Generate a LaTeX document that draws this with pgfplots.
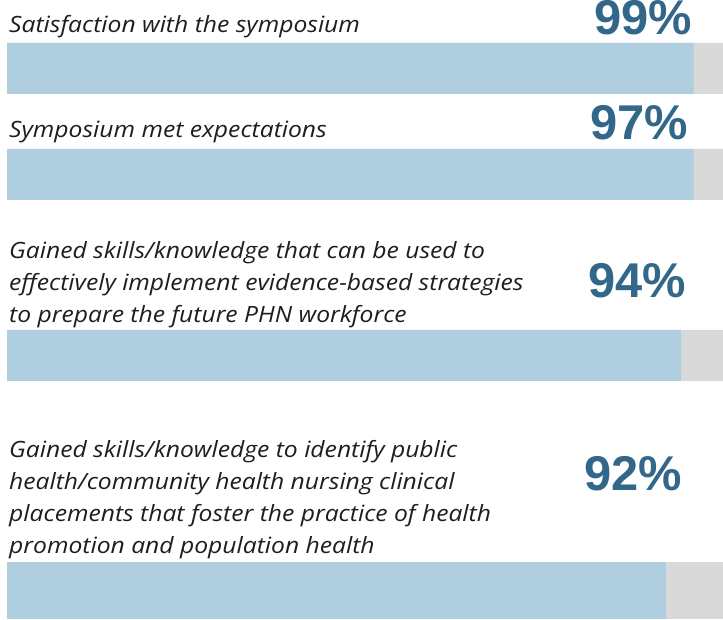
\documentclass[border=0pt]{standalone}
\usepackage{fontspec}
\setmainfont{Open Sans}[FakeStretch=1.10]
\newfontfamily\numfont{Liberation Sans}
\usepackage{pgfplots}
\pgfplotsset{compat=1.18}
\definecolor{barblue}{RGB}{175,206,224}
\definecolor{bargrey}{RGB}{217,217,217}
\definecolor{pctblue}{RGB}{50,103,137}
\definecolor{txt}{RGB}{30,30,30}
\begin{document}
\begin{tikzpicture}[x=1bp,y=1bp,
  lab/.style={anchor=base west, inner sep=0pt, text=txt, font=\fontsize{22.5}{26}\selectfont\itshape},
  pct/.style={anchor=base, inner sep=0pt, text=pctblue, font=\numfont\bfseries\fontsize{49}{52}\selectfont}]
\begin{axis}[at={(0,0)}, anchor=south west, scale only axis,
  width=723bp, height=620bp,
  xmin=-0.9777, xmax=100, ymin=0, ymax=620,
  hide axis, xbar, bar shift=0pt, clip=false]
\addplot[fill=bargrey, draw=none, bar width=51] coordinates {(100,551.5) (100,445.5) (100,264.5)};
\addplot[fill=barblue, draw=none, bar width=51] coordinates {(95.9,551.5) (95.9,445.5) (94.1,264.5)};
\addplot[fill=bargrey, draw=none, bar width=57] coordinates {(100,29.5)};
\addplot[fill=barblue, draw=none, bar width=57] coordinates {(92.0,29.5)};
\end{axis}
\node[lab] at (9,587) {Satisfaction with the symposium};
\node[lab] at (9,482) {Symposium met expectations};
\node[lab] at (9,361) {Gained skills/knowledge that can be used to};
\node[lab] at (9,329) {effectively implement evidence-based strategies};
\node[lab] at (9,297) {to prepare the future PHN workforce};
\node[lab] at (9,162) {Gained skills/knowledge to identify public};
\node[lab] at (9,130) {health/community health nursing clinical};
\node[lab] at (9,98) {placements that foster the practice of health};
\node[lab] at (9,66) {promotion and population health};
\node[pct] at (643.5,585) {99\%};
\node[pct] at (639.5,480) {97\%};
\node[pct] at (637,322) {94\%};
\node[pct] at (633,129) {92\%};
\pgfresetboundingbox
\useasboundingbox (0,0) rectangle (723,620);
\end{tikzpicture}
\end{document}
